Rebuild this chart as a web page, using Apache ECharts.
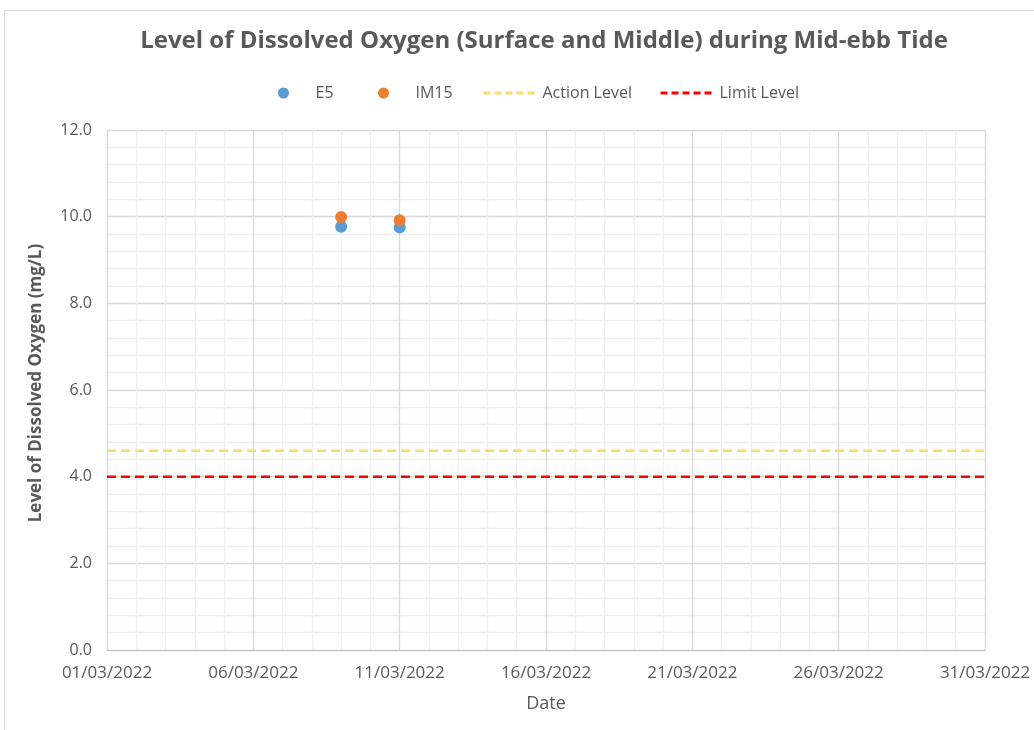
<!DOCTYPE html>
<html><head><meta charset="utf-8">
<script src="https://cdn.jsdelivr.net/npm/echarts@6/dist/echarts.min.js"></script>
<style>html,body{margin:0;padding:0;background:#fff}#c{width:1034px;height:730px}</style>
</head><body><div id="c"></div>
<script>
const dates = ['09/03/2022', '11/03/2022'];
const e5 = [9.77, 9.75];
const im15 = [9.99, 9.92];
const actionLevel = 4.6;
const limitLevel = 4.0;
const xStart = '01/03/2022';
const xEnd = '31/03/2022';
const xTickStep = 5;
const yTicks = [0, 2, 4, 6, 8, 10, 12];

function dayIndex(s) {
  const [d, m, y] = s.split('/').map(Number);
  const [d0, m0, y0] = xStart.split('/').map(Number);
  return Math.round((Date.UTC(y, m - 1, d) - Date.UTC(y0, m0 - 1, d0)) / 86400000);
}
function dayLabel(v) {
  const [d0, m0, y0] = xStart.split('/').map(Number);
  const t = new Date(Date.UTC(y0, m0 - 1, d0) + v * 86400000);
  const dd = String(t.getUTCDate()).padStart(2, '0');
  const mm = String(t.getUTCMonth() + 1).padStart(2, '0');
  return dd + '/' + mm + '/' + t.getUTCFullYear();
}
const xMax = dayIndex(xEnd);
const FONT = '"Open Sans", sans-serif';
const GREY = '#595959';

const chart = echarts.init(document.getElementById('c'));
function leg(name, left, isLine) {
  const item = { name: name };
  if (isLine) {
    item.itemStyle = { opacity: 0 };
    item.lineStyle = { width: 3, type: [7, 4] };
  }
  return {
    data: [item], left: left, top: 80, itemWidth: 54, itemHeight: 11,
    textStyle: { color: GREY, fontSize: 16, fontFamily: FONT },
    selectedMode: false
  };
}
chart.setOption({
  animation: false,
  backgroundColor: '#fff',
  graphic: [{
    type: 'rect', shape: { x: 4.5, y: 10.5, width: 1100, height: 800 },
    style: { fill: 'none', stroke: '#d9d9d9', lineWidth: 1 }, silent: true, z: -1
  }],
  title: {
    text: 'Level of Dissolved Oxygen (Surface and Middle) during Mid-ebb Tide',
    left: 539, top: 24, textAlign: 'center',
    textStyle: { color: GREY, fontSize: 24, fontWeight: 'bold', fontFamily: FONT }
  },
  legend: [leg('E5', 273, false), leg('IM15', 373, false), leg('Action Level', 477, true), leg('Limit Level', 654, true)],
  grid: { left: 107, right: 49, top: 130, bottom: 80 },
  xAxis: {
    type: 'value', min: 0, max: xMax, interval: xTickStep,
    name: 'Date', nameLocation: 'middle', nameGap: 45,
    nameTextStyle: { color: GREY, fontSize: 18, fontFamily: FONT },
    axisLine: { show: true, lineStyle: { color: '#bfbfbf', width: 1 } },
    axisTick: { show: false },
    axisLabel: { color: GREY, fontSize: 17, fontFamily: FONT, margin: 15, formatter: v => dayLabel(v), showMaxLabel: true, showMinLabel: true },
    splitLine: { show: true, lineStyle: { color: '#d9d9d9', width: 1.3 } },
    minorTick: { show: false, splitNumber: xTickStep },
    minorSplitLine: { show: true, lineStyle: { color: '#efefef', width: 1.3 } }
  },
  yAxis: {
    type: 'value', min: yTicks[0], max: yTicks[yTicks.length - 1], interval: yTicks[1] - yTicks[0],
    name: 'Level of Dissolved Oxygen (mg/L)', nameLocation: 'middle', nameGap: 62,
    nameTextStyle: { color: GREY, fontSize: 17, fontWeight: 'bold', fontFamily: FONT, padding: [0, 0, 0, 14] },
    axisLine: { show: false }, axisTick: { show: false },
    axisLabel: { color: GREY, fontSize: 16, fontFamily: FONT, margin: 15, formatter: v => v.toFixed(1) },
    splitLine: { show: true, lineStyle: { color: '#d9d9d9', width: 1.3 } },
    minorTick: { show: false, splitNumber: 5 },
    minorSplitLine: { show: true, lineStyle: { color: '#efefef', width: 1.3 } }
  },
  series: [
    { name: 'E5', type: 'scatter', symbolSize: 12, itemStyle: { color: '#5b9bd5', opacity: 1 },
      data: dates.map((d, i) => [dayIndex(d), e5[i]]), z: 5 },
    { name: 'IM15', type: 'scatter', symbolSize: 12, itemStyle: { color: '#ed7d31', opacity: 1 },
      data: dates.map((d, i) => [dayIndex(d), im15[i]]), z: 6 },
    { name: 'Action Level', type: 'line', symbol: 'none', color: '#ffd966',
      lineStyle: { color: '#ffd966', width: 2.5, type: [9, 5] },
      data: [[0, actionLevel], [xMax, actionLevel]] },
    { name: 'Limit Level', type: 'line', symbol: 'none', color: '#ff0000',
      lineStyle: { color: '#ff0000', width: 2.5, type: [9, 5] },
      data: [[0, limitLevel], [xMax, limitLevel]] }
  ]
});
</script></body></html>
